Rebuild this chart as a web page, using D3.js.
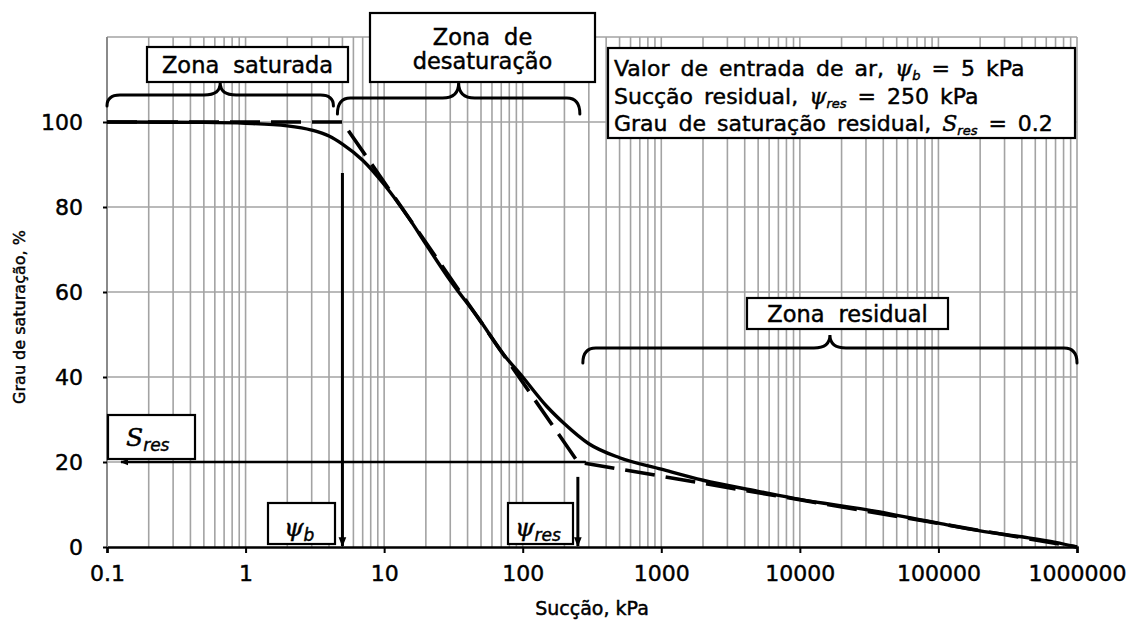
<!DOCTYPE html>
<html>
<head>
<meta charset="utf-8">
<script src="https://cdn.jsdelivr.net/npm/d3@7"></script>
<style>
  html, body { margin: 0; padding: 0; background: #fff; }
  text { font-family: "DejaVu Sans", sans-serif; fill: #000; stroke: #000; stroke-width: 0.45px; }
</style>
</head>
<body>
<svg id="chart" width="1136" height="628"></svg>
<script>
// Soil-water characteristic curve: degree of saturation vs. suction (log scale)
const suction    = [0.1, 0.5, 1, 2, 3, 4, 5, 7, 10, 15, 20, 30, 50, 70, 100, 150, 200, 300, 500,
                    1000, 2000, 5000, 10000, 30000, 100000, 200000, 400000, 700000, 1000000];
const saturation = [100, 99.9, 99.7, 99.1, 98.1, 96.7, 94.8, 91, 85.3, 77.5, 71.3, 62.7, 53, 46, 40, 33, 29, 24.3, 21,
                    18.3, 15.7, 13.1, 11.2, 8.8, 5.6, 3.8, 2.4, 1.1, 0];

// Idealised (piecewise) curve: air-entry value, residual suction, residual saturation
const psiB = 5, psiRes = 250, sRes = 20;
const idealSuction    = [0.1, psiB, psiRes, 1000000];
const idealSaturation = [100, 100, sRes, 0];

// Axis ticks
const xTickValues = [0.1, 1, 10, 100, 1000, 10000, 100000, 1000000];
const xTickLabels = ["0.1", "1", "10", "100", "1000", "10000", "100000", "1000000"];
const yTickValues = [0, 20, 40, 60, 80, 100];

// Zones (suction ranges) and their labels
const zoneLabels = [["Zona saturada"], ["Zona de", "desaturação"], ["Zona residual"]];
const zoneFrom   = [0.1, psiB, psiRes];
const zoneTo     = [psiB, psiRes, 1000000];

// Info box lines: segments of [text, style] where style: "" plain, "i" italic, "s" italic subscript
const infoLines = [
  [["Valor de entrada de ar, ", ""], ["ψ", "i"], ["b", "s"], [" = 5 kPa", ""]],
  [["Sucção residual, ", ""], ["ψ", "i"], ["res", "s"], [" = 250 kPa", ""]],
  [["Grau de saturação residual, ", ""], ["S", "i"], ["res", "s"], [" = 0.2", ""]]
];

const W = 1136, H = 628;
const margin = { top: 37, right: 59, bottom: 81, left: 107 };
const svg = d3.select("#chart");

const x = d3.scaleLog().domain([0.1, 1000000]).range([margin.left, W - margin.right]);
const y = d3.scaleLinear().domain([0, 120]).range([H - margin.bottom, margin.top]);

const gridColor = "#a3a3a3";

// ---- grid ----
const grid = svg.append("g");
grid.selectAll("line.v")
  .data(x.ticks())
  .join("line")
  .attr("x1", d => x(d)).attr("x2", d => x(d))
  .attr("y1", y(0)).attr("y2", y(120))
  .attr("stroke", gridColor).attr("stroke-width", 1.6);
grid.selectAll("line.h")
  .data(yTickValues.filter(v => v > 0).concat([120]))
  .join("line")
  .attr("x1", x(0.1)).attr("x2", x(1000000))
  .attr("y1", d => y(d)).attr("y2", d => y(d))
  .attr("stroke", gridColor).attr("stroke-width", 1.6);

// ---- axes ----
const xAxis = svg.append("g")
  .attr("transform", `translate(0,${y(0)})`)
  .call(d3.axisBottom(x).tickValues(xTickValues)
        .tickFormat((d, i) => xTickLabels[i]).tickSize(6).tickPadding(12));
xAxis.select(".domain").attr("stroke", "#000").attr("stroke-width", 2.5);
xAxis.selectAll(".tick line").attr("stroke", "#000").attr("stroke-width", 2);
xAxis.selectAll(".tick text").attr("font-size", 22).attr("font-family", "DejaVu Sans");

const yAxis = svg.append("g")
  .attr("transform", `translate(${x(0.1)},0)`)
  .call(d3.axisLeft(y).tickValues(yTickValues).tickSize(4).tickPadding(20));
yAxis.select(".domain").attr("stroke", "#8a8a8a").attr("stroke-width", 2)
  .attr("d", `M0,${y(0)}V${y(120)}`);
yAxis.selectAll(".tick line").attr("stroke", "#000").attr("stroke-width", 2);
yAxis.selectAll(".tick text").attr("font-size", 22).attr("font-family", "DejaVu Sans")
  .attr("dy", "0.36em");

svg.append("text")
  .attr("x", (x.range()[0] + x.range()[1]) / 2).attr("y", 615)
  .attr("text-anchor", "middle").attr("font-size", 19)
  .text("Sucção, kPa");
svg.append("text")
  .attr("transform", "translate(25,317) rotate(-90)")
  .attr("text-anchor", "middle").attr("font-size", 16)
  .text("Grau de saturação, %");

// ---- arrow marker ----
svg.append("defs").append("marker")
  .attr("id", "arrow").attr("viewBox", "0 0 10 10")
  .attr("refX", 9).attr("refY", 5)
  .attr("markerWidth", 3.2).attr("markerHeight", 3.2)
  .attr("orient", "auto-start-reverse")
  .append("path").attr("d", "M0,1L10,5L0,9Z").attr("fill", "#000");

// ---- curves ----
svg.append("path")
  .datum(d3.zip(idealSuction, idealSaturation))
  .attr("d", d3.line().x(d => x(d[0])).y(d => y(d[1])))
  .attr("fill", "none").attr("stroke", "#000")
  .attr("stroke-width", 3.6).attr("stroke-dasharray", "30,11");

svg.append("path")
  .datum(d3.zip(suction, saturation))
  .attr("d", d3.line().x(d => x(d[0])).y(d => y(d[1])).curve(d3.curveMonotoneX))
  .attr("fill", "none").attr("stroke", "#000")
  .attr("stroke-width", 3.4).attr("stroke-linejoin", "round");

// ---- reference arrows ----
const arrows = svg.append("g").attr("stroke", "#000").attr("stroke-width", 3);
arrows.append("line")
  .attr("x1", x(psiB)).attr("x2", x(psiB))
  .attr("y1", y(88)).attr("y2", y(0) - 1)
  .attr("marker-end", "url(#arrow)");
arrows.append("line")
  .attr("x1", x(psiRes)).attr("x2", x(psiRes))
  .attr("y1", y(16.5)).attr("y2", y(0) - 1)
  .attr("marker-end", "url(#arrow)");
arrows.append("line")
  .attr("x1", x(psiRes) + 8).attr("x2", x(0.1) + 14)
  .attr("y1", y(sRes)).attr("y2", y(sRes))
  .attr("stroke-width", 2.6)
  .attr("marker-end", "url(#arrow)");

// ---- braces over the zones ----
function bracePath(x1, x2, yLine, yTip, yEnd) {
  const xm = (x1 + x2) / 2, r = 13, r2 = 16;
  return `M${x1},${yEnd} Q${x1},${yLine} ${x1 + r},${yLine} L${xm - r2},${yLine}` +
         ` Q${xm},${yLine} ${xm},${yTip} Q${xm},${yLine} ${xm + r2},${yLine}` +
         ` L${x2 - r},${yLine} Q${x2},${yLine} ${x2},${yEnd}`;
}
const braceLayout = [
  { dx1: 0,  dx2: -9, yLine: 95,  yTip: 83,  yEnd: 106 },
  { dx1: -5, dx2: 2,  yLine: 98,  yTip: 83,  yEnd: 114 },
  { dx1: 5,  dx2: 0,  yLine: 348, yTip: 335, yEnd: 363 }
];
svg.append("g").selectAll("path")
  .data(braceLayout)
  .join("path")
  .attr("d", (b, i) => bracePath(x(zoneFrom[i]) + b.dx1, x(zoneTo[i]) + b.dx2, b.yLine, b.yTip, b.yEnd))
  .attr("fill", "none").attr("stroke", "#000").attr("stroke-width", 3)
  .attr("stroke-linecap", "round");

// ---- zone label boxes ----
const zoneBoxes = [
  { x: 147, y: 47, w: 201, h: 35, ty: [73] },
  { x: 370, y: 13, w: 225, h: 69, ty: [45, 69] },
  { x: 747, y: 298, w: 201, h: 31, ty: [322] }
];
const zb = svg.append("g");
zoneBoxes.forEach((b, i) => {
  zb.append("rect").attr("x", b.x).attr("y", b.y).attr("width", b.w).attr("height", b.h)
    .attr("fill", "#fff").attr("stroke", "#000").attr("stroke-width", 2.2);
  zoneLabels[i].forEach((t, j) => {
    zb.append("text").attr("x", b.x + b.w / 2).attr("y", b.ty[j])
      .attr("text-anchor", "middle").attr("font-size", 22.5).attr("word-spacing", 7)
      .text(t);
  });
});

// ---- info box ----
const info = svg.append("g");
info.append("rect").attr("x", 608).attr("y", 48).attr("width", 467).attr("height", 90)
  .attr("fill", "#fff").attr("stroke", "#000").attr("stroke-width", 2.2);
infoLines.forEach((segs, i) => {
  const t = info.append("text").attr("x", 614).attr("y", 76 + i * 27.5)
    .attr("font-size", 22).attr("word-spacing", 4);
  let shifted = false;
  segs.forEach(([s, st]) => {
    const ts = t.append("tspan").text(s);
    if (st === "i") ts.attr("font-style", "italic").attr("font-family", "DejaVu Serif");
    if (st === "s") {
      ts.attr("font-style", "italic").attr("font-size", 13).attr("dy", 4);
      shifted = true;
    } else if (shifted) {
      ts.attr("dy", -4);
      shifted = false;
    }
  });
});

// ---- symbol boxes (psi_b, psi_res, S_res) ----
const symBoxes = [
  { x: 268, y: 503, w: 67, h: 41, main: "ψ", sub: "b", tx: 284, ty: 536 },
  { x: 508, y: 503, w: 65, h: 41, main: "ψ", sub: "res", tx: 515, ty: 536 },
  { x: 108, y: 415, w: 87, h: 44, main: "S", sub: "res", tx: 126, ty: 446 }
];
symBoxes.forEach(b => {
  const g = svg.append("g");
  g.append("rect").attr("x", b.x).attr("y", b.y).attr("width", b.w).attr("height", b.h)
    .attr("fill", "#fff").attr("stroke", "#000").attr("stroke-width", 2.2);
  const t = g.append("text").attr("x", b.tx).attr("y", b.ty).attr("font-size", 25);
  t.append("tspan").attr("font-style", "italic").attr("font-family", "DejaVu Serif").text(b.main);
  t.append("tspan").attr("font-style", "italic").attr("font-size", 17).attr("dy", 5).text(b.sub);
});
</script>
</body>
</html>
